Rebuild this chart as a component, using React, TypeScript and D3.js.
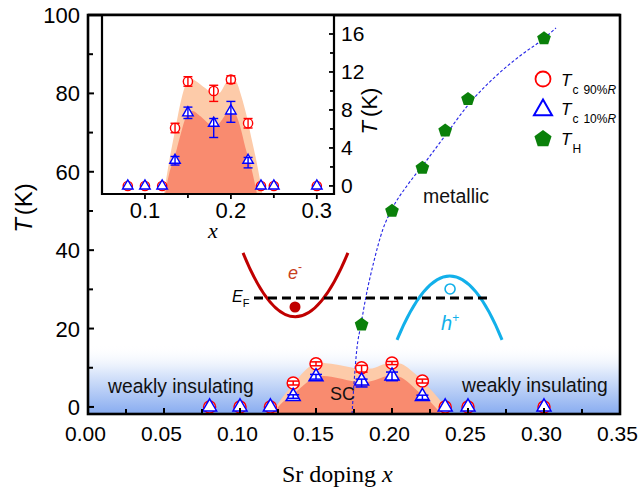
import React from 'react';
import * as d3 from 'd3';

// ---- data ----
const tcX = [0.135, 0.15, 0.18, 0.2, 0.22];
const tc90 = [6.1, 11.0, 10.0, 11.2, 6.6];
const tc90Lo = [5.6, 10.5, 8.9, 10.8, 6.1];
const tc90Hi = [6.6, 11.5, 10.6, 11.6, 7.1];
const tc10 = [2.7, 7.7, 6.6, 7.9, 2.7];
const tc10Lo = [2.2, 7.1, 5.1, 6.7, 1.9];
const tc10Hi = [3.1, 8.3, 7.1, 8.9, 3.0];
const zeroX = [0.08, 0.1, 0.12, 0.235, 0.25, 0.3];
const zeroT = [0, 0, 0, 0, 0, 0];
const thX = [0.18, 0.2, 0.22, 0.235, 0.25, 0.3];
const thT = [21, 50, 61, 70.5, 78.5, 94];
const fitX = [0.1737, 0.175, 0.1768, 0.1796, 0.1827, 0.188, 0.1939, 0.2, 0.21, 0.221, 0.2355, 0.25, 0.27, 0.285, 0.2993, 0.3079];
const fitT = [-1.8, 6, 14.5, 21, 27.8, 37, 45.2, 50.5, 56.5, 62, 69.5, 77, 85, 89.8, 93.8, 96.7];
const lightX = [0.1205, 0.128, 0.135, 0.142, 0.148, 0.153, 0.16, 0.17, 0.18, 0.187, 0.194, 0.2, 0.206, 0.212, 0.218, 0.224, 0.23, 0.2385];
const lightT = [-1.8, 2.5, 5.8, 9, 10.8, 11.3, 11.0, 10.3, 9.7, 9.8, 10.8, 11.3, 11.0, 9.5, 7.5, 5.0, 2.5, -1.8];
const darkX = [0.1215, 0.128, 0.135, 0.142, 0.149, 0.155, 0.165, 0.175, 0.182, 0.19, 0.197, 0.203, 0.21, 0.217, 0.224, 0.2325];
const darkT = [-1.8, 1.2, 3.2, 5.6, 7.5, 7.9, 7.3, 6.5, 6.3, 7.0, 7.8, 7.8, 6.5, 4.0, 1.8, -1.8];
const mainXTicks = [0, 0.05, 0.1, 0.15, 0.2, 0.25, 0.3, 0.35];
const mainXLabels = ['0.00', '0.05', '0.10', '0.15', '0.20', '0.25', '0.30', '0.35'];
const mainXMinor = [0.025, 0.075, 0.125, 0.175, 0.225, 0.275, 0.325];
const mainYTicks = [0, 20, 40, 60, 80, 100];
const mainYMinor = [10, 30, 50, 70, 90];
const insetXTicks = [0.1, 0.2, 0.3];
const insetXMinor = [0.15, 0.25];
const insetYTicks = [0, 4, 8, 12, 16];
const insetYMinor = [2, 6, 10, 14];
// band schematic (x, T)
const eBandX = [0.102, 0.1362, 0.171];
const eBandT = [39.3, 23.0, 39.3];
const hBandX = [0.2033, 0.2382, 0.2724];
const hBandT = [17.1, 33.4, 17.1];
const efX = [0.1092, 0.2645];
const efT = 27.8;

const SANS = '"Liberation Sans", Arial, sans-serif';
const SERIF = '"Liberation Serif", "Times New Roman", serif';

const tri = (w: number) => {
  const h = w * 0.866;
  return `M0,${-2 * h / 3}L${w / 2},${h / 3}L${-w / 2},${h / 3}Z`;
};
const pent = (r: number) => {
  const p = d3.path();
  for (let k = 0; k < 5; k++) {
    const a = -Math.PI / 2 + (k * 2 * Math.PI) / 5;
    if (k === 0) p.moveTo(r * Math.cos(a), r * Math.sin(a));
    else p.lineTo(r * Math.cos(a), r * Math.sin(a));
  }
  p.closePath();
  return p.toString();
};
const parab = (xs: number[], ts: number[], xS: any, yS: any) => {
  const p = d3.path();
  const x0 = xS(xs[0]), y0 = yS(ts[0]);
  const xc = xS(xs[1]), yv = yS(ts[1]);
  const x2 = xS(xs[2]), y2 = yS(ts[2]);
  p.moveTo(x0, y0);
  p.quadraticCurveTo(xc, 2 * yv - (y0 + y2) / 2, x2, y2);
  return p.toString();
};

function Markers({ xS, yS, cr, tw, cap, sw }: any) {
  return (
    <g>
      {zeroX.map((x, i) => (
        <circle key={'zc' + i} cx={xS(x)} cy={yS(zeroT[i])} r={cr} fill="white" stroke="#ff0000" strokeWidth={sw} />
      ))}
      {tcX.map((x, i) => (
        <g key={'r' + i}>
          <circle cx={xS(x)} cy={yS(tc90[i])} r={cr} fill="white" stroke="#ff0000" strokeWidth={sw} />
          <line x1={xS(x)} x2={xS(x)} y1={yS(tc90Lo[i])} y2={yS(tc90Hi[i])} stroke="#ff0000" strokeWidth={sw} />
          <line x1={xS(x) - cap} x2={xS(x) + cap} y1={yS(tc90Lo[i])} y2={yS(tc90Lo[i])} stroke="#ff0000" strokeWidth={sw} />
          <line x1={xS(x) - cap} x2={xS(x) + cap} y1={yS(tc90Hi[i])} y2={yS(tc90Hi[i])} stroke="#ff0000" strokeWidth={sw} />
        </g>
      ))}
      {zeroX.map((x, i) => (
        <path key={'zt' + i} d={tri(tw)} transform={`translate(${xS(x)},${yS(zeroT[i])})`} fill="white" stroke="#0000ff" strokeWidth={sw} />
      ))}
      {tcX.map((x, i) => (
        <g key={'b' + i}>
          <path d={tri(tw)} transform={`translate(${xS(x)},${yS(tc10[i])})`} fill="white" stroke="#0000ff" strokeWidth={sw} />
          <line x1={xS(x)} x2={xS(x)} y1={yS(tc10Lo[i])} y2={yS(tc10Hi[i])} stroke="#0000ff" strokeWidth={sw} />
          <line x1={xS(x) - cap} x2={xS(x) + cap} y1={yS(tc10Lo[i])} y2={yS(tc10Lo[i])} stroke="#0000ff" strokeWidth={sw} />
          <line x1={xS(x) - cap} x2={xS(x) + cap} y1={yS(tc10Hi[i])} y2={yS(tc10Hi[i])} stroke="#0000ff" strokeWidth={sw} />
        </g>
      ))}
    </g>
  );
}

export default function App() {
  const xM = d3.scaleLinear().domain([0, 0.35]).range([88, 620]);
  const yM = d3.scaleLinear().domain([-1.8, 100]).range([414, 15]);
  const xI = d3.scaleLinear().domain([0.05, 0.32]).range([102, 334]);
  const yI = d3.scaleLinear().domain([-0.85, 18]).range([194, 15]);

  const area = (xs: number[], ts: number[], xS: any, yS: any, base: number) =>
    d3.area<number>().x((i) => xS(xs[i])).y0(base).y1((i) => yS(ts[i])).curve(d3.curveMonotoneX)(d3.range(xs.length)) || '';
  const fitLine = d3.line<number>().x((i) => xM(fitX[i])).y((i) => yM(fitT[i])).curve(d3.curveMonotoneX)(d3.range(fitX.length)) || '';

  return (
    <svg width={639} height={496} style={{ position: 'absolute', left: 0, top: 0, background: 'white' }} fontFamily={SANS}>
      <defs>
        <clipPath id="mainClip"><rect x={88} y={15} width={532} height={399} /></clipPath>
        <clipPath id="insetClip"><rect x={102} y={15} width={232} height={179} /></clipPath>
        <linearGradient id="band" x1="0" y1="0" x2="0" y2="1">
          <stop offset="0" stopColor="#ffffff" stopOpacity={0} />
          <stop offset="0.4" stopColor="#dde8fb" />
          <stop offset="1" stopColor="#88acf0" />
        </linearGradient>
      </defs>
      <rect x={0} y={0} width={639} height={496} fill="white" />
      {/* main plot */}
      <rect x={88} y={yM(16)} width={532} height={414 - yM(16)} fill="url(#band)" />
      <g clipPath="url(#mainClip)">
        <path d={area(lightX, lightT, xM, yM, 414)} fill="#fdcba9" />
        <path d={area(darkX, darkT, xM, yM, 414)} fill="#f98b6f" />
        <path d={fitLine} fill="none" stroke="#2323e6" strokeWidth={1.1} strokeDasharray="3,2" />
      </g>
      {/* band schematic */}
      <path d={parab(eBandX, eBandT, xM, yM)} fill="none" stroke="#c00000" strokeWidth={3} />
      <path d={parab(hBandX, hBandT, xM, yM)} fill="none" stroke="#12b0ea" strokeWidth={3} />
      <line x1={xM(efX[0])} x2={xM(efX[1])} y1={yM(efT)} y2={yM(efT)} stroke="black" strokeWidth={3} strokeDasharray="9,5" />
      <circle cx={xM(0.1362)} cy={yM(25.5)} r={5.5} fill="#c00000" />
      <circle cx={xM(0.2382)} cy={yM(30.1)} r={5} fill="white" stroke="#12b0ea" strokeWidth={1.6} />
      <text x={288} y={279} fontSize={18} fill="#c8401e" fontStyle="italic">e<tspan dy={-8} fontSize={12} fontStyle="normal">-</tspan></text>
      <text x={441} y={330} fontSize={20} fill="#12b0ea" fontStyle="italic">h<tspan dy={-8} fontSize={12} fontStyle="normal">+</tspan></text>
      <text x={232} y={302} fontSize={16} fontStyle="italic">E<tspan dy={5} fontSize={11} fontStyle="normal">F</tspan></text>
      {/* text annotations */}
      <text x={423} y={203} fontSize={19.5} fill="#111">metallic</text>
      <text x={108} y={393} fontSize={19.3} fill="#111">weakly insulating</text>
      <text x={462} y={392} fontSize={19.3} fill="#111">weakly insulating</text>
      <text x={330} y={400} fontSize={18} fill="#111">SC</text>
      {/* markers */}
      <Markers xS={xM} yS={yM} cr={6} tw={14} cap={6} sw={1.5} />
      {thX.map((x, i) => (
        <path key={'th' + i} d={pent(7.2)} transform={`translate(${xM(x)},${yM(thT[i])})`} fill="#0a800a" />
      ))}
      {/* main axes */}
      <rect x={88} y={15} width={532} height={399} fill="none" stroke="black" strokeWidth={2.6} />
      {mainXTicks.map((t, i) => (
        <g key={'mx' + i}>
          <line x1={xM(t)} x2={xM(t)} y1={414} y2={408} stroke="black" strokeWidth={2} />
          <text x={xM(t) - 2.5} y={441} fontSize={21} textAnchor="middle">{mainXLabels[i]}</text>
        </g>
      ))}
      {mainXMinor.map((t, i) => (
        <line key={'mxm' + i} x1={xM(t)} x2={xM(t)} y1={414} y2={409} stroke="black" strokeWidth={2} />
      ))}
      {mainYTicks.map((t, i) => (
        <g key={'my' + i}>
          <line x1={88} x2={94} y1={yM(t)} y2={yM(t)} stroke="black" strokeWidth={2} />
          <text x={80} y={yM(t) + 8} fontSize={22} textAnchor="end">{t}</text>
        </g>
      ))}
      {mainYMinor.map((t, i) => (
        <line key={'mym' + i} x1={88} x2={93} y1={yM(t)} y2={yM(t)} stroke="black" strokeWidth={2} />
      ))}
      <text transform="translate(32,208) rotate(-90)" fontSize={24} textAnchor="middle">
        <tspan fontStyle="italic">T</tspan><tspan dx={3}>(K)</tspan>
      </text>
      <text x={282} y={482} fontSize={24} fontFamily={SERIF}>
        Sr doping <tspan fontStyle="italic">x</tspan>
      </text>
      {/* legend */}
      <circle cx={543} cy={79} r={7.5} fill="white" stroke="#ff0000" strokeWidth={1.8} />
      <text x={561} y={86} fontSize={17} fontStyle="italic">T<tspan fontStyle="normal" fontSize={12} dy={8} dx={1}>c</tspan><tspan fontStyle="normal" fontSize={12} dx={5}>90%</tspan><tspan fontSize={12}>R</tspan></text>
      <path d={tri(18)} transform="translate(543,110)" fill="white" stroke="#0000ff" strokeWidth={2} />
      <text x={561} y={115} fontSize={17} fontStyle="italic">T<tspan fontStyle="normal" fontSize={12} dy={8} dx={1}>c</tspan><tspan fontStyle="normal" fontSize={12} dx={5}>10%</tspan><tspan fontSize={12}>R</tspan></text>
      <path d={pent(9)} transform="translate(543,139)" fill="#0a800a" />
      <text x={561} y={145} fontSize={17} fontStyle="italic">T<tspan fontStyle="normal" fontSize={12} dy={8} dx={1}>H</tspan></text>
      {/* inset */}
      <rect x={102} y={15} width={232} height={179} fill="white" />
      <g clipPath="url(#insetClip)">
        <path d={area(lightX, lightT, xI, yI, 194)} fill="#fdcba9" />
        <path d={area(darkX, darkT, xI, yI, 194)} fill="#f98b6f" />
      </g>
      <Markers xS={xI} yS={yI} cr={4.6} tw={10.5} cap={4.5} sw={1.4} />
      <path d="M102,15L102,194L334,194L334,15" fill="none" stroke="black" strokeWidth={2.2} />
      <line x1={88} x2={620} y1={15} y2={15} stroke="black" strokeWidth={2.6} />
      {insetXTicks.map((t, i) => (
        <g key={'ix' + i}>
          <line x1={xI(t)} x2={xI(t)} y1={194} y2={199} stroke="black" strokeWidth={1.8} />
          <text x={xI(t)} y={218} fontSize={22} textAnchor="middle">{t}</text>
        </g>
      ))}
      {insetXMinor.map((t, i) => (
        <line key={'ixm' + i} x1={xI(t)} x2={xI(t)} y1={194} y2={198} stroke="black" strokeWidth={1.8} />
      ))}
      {insetYTicks.map((t, i) => (
        <g key={'iy' + i}>
          <line x1={334} x2={329} y1={yI(t)} y2={yI(t)} stroke="black" strokeWidth={1.8} />
          <text x={341} y={yI(t) + 7.5} fontSize={21}>{t}</text>
        </g>
      ))}
      {insetYMinor.map((t, i) => (
        <line key={'iym' + i} x1={334} x2={330} y1={yI(t)} y2={yI(t)} stroke="black" strokeWidth={1.8} />
      ))}
      <text transform="translate(377,111) rotate(-90)" fontSize={22} textAnchor="middle">
        <tspan fontStyle="italic">T</tspan><tspan dx={4}>(K)</tspan>
      </text>
      <text x={213} y={238} fontSize={22} fontFamily={SERIF} fontStyle="italic" textAnchor="middle">x</text>
    </svg>
  );
}
